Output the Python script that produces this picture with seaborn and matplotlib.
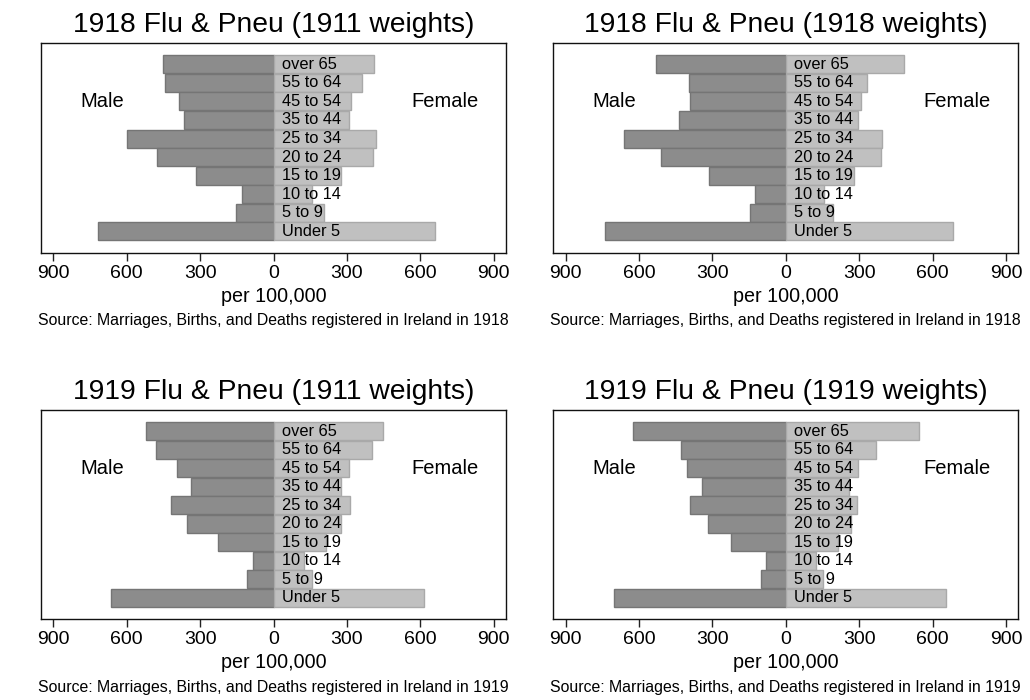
import numpy as np
import pandas as pd
import matplotlib
matplotlib.use("Agg")
import matplotlib.pyplot as plt
import seaborn as sns

# ---------------- data ----------------
ages = ["Under 5", "5 to 9", "10 to 14", "15 to 19", "20 to 24",
        "25 to 34", "35 to 44", "45 to 54", "55 to 64", "over 65"]

titles = ["1918 Flu & Pneu (1911 weights)", "1918 Flu & Pneu (1918 weights)",
          "1919 Flu & Pneu (1911 weights)", "1919 Flu & Pneu (1919 weights)"]
sources = ["Source: Marriages, Births, and Deaths registered in Ireland in 1918",
           "Source: Marriages, Births, and Deaths registered in Ireland in 1918",
           "Source: Marriages, Births, and Deaths registered in Ireland in 1919",
           "Source: Marriages, Births, and Deaths registered in Ireland in 1919"]

male_1918_w1911 = [716, 155, 127, 318, 475, 597, 367, 386, 442, 450]
female_1918_w1911 = [660, 205, 157, 277, 405, 417, 308, 317, 362, 409]
male_1918_w1918 = [738, 145, 127, 315, 509, 660, 438, 390, 394, 529]
female_1918_w1918 = [682, 191, 155, 278, 389, 393, 293, 307, 331, 484]
male_1919_w1911 = [663, 109, 82, 228, 354, 420, 337, 393, 481, 519]
female_1919_w1911 = [614, 156, 123, 214, 276, 311, 276, 308, 402, 446]
male_1919_w1919 = [701, 102, 82, 225, 319, 390, 344, 402, 428, 626]
female_1919_w1919 = [655, 153, 123, 215, 267, 291, 259, 297, 368, 543]

males = [male_1918_w1911, male_1918_w1918, male_1919_w1911, male_1919_w1919]
females = [female_1918_w1911, female_1918_w1918, female_1919_w1911, female_1919_w1919]

tick_vals = [-900, -600, -300, 0, 300, 600, 900]
tick_labels = ["900", "600", "300", "0", "300", "600", "900"]

# ---------------- style ----------------
sns.set_theme(style="white")
plt.rcParams["font.family"] = ["Liberation Sans", "DejaVu Sans"]
plt.rcParams["text.color"] = "black"
plt.rcParams["axes.labelcolor"] = "black"
plt.rcParams["xtick.color"] = "black"
plt.rcParams["axes.titlecolor"] = "black"

male_face = "#8c8c8c"
male_edge = "#757575"
female_face = "#c0c0c0"
female_edge = "#a9a9a9"

fig = plt.figure(figsize=(10.3, 7.0), dpi=100)

positions = [
    [41 / 1030, 1 - 252.7 / 700, 465 / 1030, 210 / 700],
    [553.3 / 1030, 1 - 252.7 / 700, 465 / 1030, 210 / 700],
    [41 / 1030, 1 - 619 / 700, 465 / 1030, 209 / 700],
    [553.3 / 1030, 1 - 619 / 700, 465 / 1030, 209 / 700],
]

order = ages[::-1]

for k in range(4):
    ax = fig.add_axes(positions[k])
    df = pd.DataFrame({"age": ages,
                       "male": [-v for v in males[k]],
                       "female": females[k]})
    sns.barplot(data=df, x="male", y="age", order=order, orient="h",
                color=male_face, saturation=1, edgecolor=male_edge,
                linewidth=1.0, width=0.97, ax=ax)
    sns.barplot(data=df, x="female", y="age", order=order, orient="h",
                color=female_face, saturation=1, edgecolor=female_edge,
                linewidth=1.0, width=0.97, ax=ax)

    ax.set_xlim(-950, 950)
    ax.set_ylim(len(order) - 1 + 1.15, -1.16)
    ax.set_yticks([])
    ax.set_ylabel("")
    ax.set_xticks(tick_vals)
    ax.set_xticklabels(tick_labels, fontsize=14)
    ax.tick_params(axis="x", direction="out", length=6, width=1,
                   color="#222222", pad=3, bottom=True)
    ax.set_xlabel("per 100,000", fontsize=14.2, labelpad=3.5)

    for sp in ax.spines.values():
        sp.set_visible(True)
        sp.set_color("#111111")
        sp.set_linewidth(1.0)

    for i, a in enumerate(order):
        ax.annotate(a, (0, i), xytext=(6, 0), textcoords="offset points",
                    va="center", ha="left", fontsize=11.8, color="black")

    yi = order.index("45 to 54")
    ax.text(-700, yi, "Male", ha="center", va="center", fontsize=14.5)
    ax.text(700, yi, "Female", ha="center", va="center", fontsize=14.5)

    ax.set_title(titles[k], fontsize=20.3, pad=8)
    ax.annotate(sources[k], (0.5, 0), xycoords="axes fraction",
                xytext=(0, -49), textcoords="offset points",
                ha="center", va="center", fontsize=11.4)

fig.savefig("out.png", dpi=100)
